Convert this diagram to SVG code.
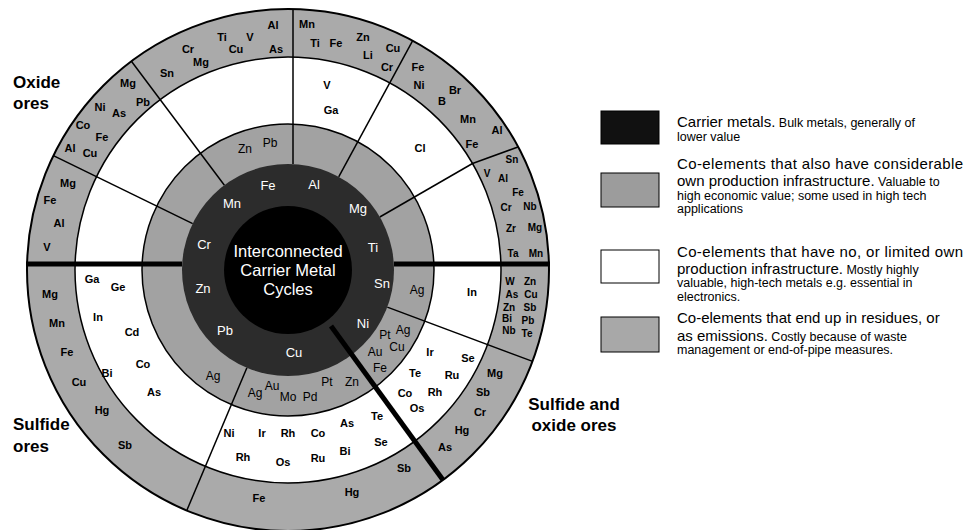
<svg xmlns="http://www.w3.org/2000/svg" width="967" height="530" viewBox="0 0 967 530">
<style>
text{font-family:"Liberation Sans",Arial,Helvetica,sans-serif}
.o{font-size:11px;font-weight:bold;text-anchor:middle;fill:#000}
.s{font-size:10px;font-weight:bold;text-anchor:middle;fill:#000}
.w{font-size:11px;font-weight:bold;text-anchor:middle;fill:#000}
.m{font-size:12px;text-anchor:middle;fill:#000}
.d{font-size:13px;text-anchor:middle;fill:#fff}
.c{font-size:16.5px;text-anchor:middle;fill:#fff}
.reg{font-size:17px;font-weight:bold;fill:#000}
.lb{font-size:15px;fill:#000}
.ls{font-size:12.5px;fill:#000}
.thin{stroke:#000;stroke-width:1.5;fill:none}
.thick{stroke:#000;stroke-width:5;fill:none}
</style>
<rect width="967" height="530" fill="#fff"/>
<g id="rings">
<circle cx="288" cy="270" r="261" fill="#aaaaaa" stroke="#000" stroke-width="2"/>
<circle cx="288" cy="270" r="213" fill="#fff" stroke="#000" stroke-width="1.5"/>
<circle cx="288" cy="270" r="146" fill="#a2a2a2" stroke="#000" stroke-width="1.5"/>
</g>
<g id="connectors">
<line class="thin" x1="224.4" y1="185.2" x2="131.4" y2="61.2"/>
<line class="thin" x1="192.7" y1="223.6" x2="53.4" y2="155.7"/>
<line class="thin" x1="293" y1="164" x2="293" y2="9"/>
<line class="thin" x1="338.7" y1="176.8" x2="412.7" y2="40.6"/>
<line class="thin" x1="379.8" y1="217" x2="472.5" y2="163.5"/>
<line class="thin" x1="472.5" y1="163.5" x2="518" y2="147"/>
<line class="thin" x1="387.3" y1="307.1" x2="532.6" y2="361.4"/>
<line class="thin" x1="246.9" y1="367.7" x2="186.7" y2="510.7"/>
<line class="thick" x1="26" y1="264" x2="182" y2="264"/>
<line class="thick" x1="394" y1="264" x2="550" y2="264"/>
</g>
<g id="carrier">
<circle cx="288" cy="270" r="106" fill="#2c2c2c"/>
<circle cx="288" cy="270" r="64" fill="#000"/>
<line class="thick" x1="331" y1="326" x2="443" y2="480"/>
</g>
<g id="center-label">
<text class="c" x="288" y="257">Interconnected</text>
<text class="c" x="288" y="276">Carrier Metal</text>
<text class="c" x="288" y="295">Cycles</text>
</g>
<g id="carrier-metals">
<text class="d" x="268" y="190">Fe</text>
<text class="d" x="314" y="189">Al</text>
<text class="d" x="232" y="208">Mn</text>
<text class="d" x="358" y="213">Mg</text>
<text class="d" x="204" y="249">Cr</text>
<text class="d" x="373" y="252">Ti</text>
<text class="d" x="203" y="293">Zn</text>
<text class="d" x="382" y="288">Sn</text>
<text class="d" x="225" y="335">Pb</text>
<text class="d" x="363" y="328">Ni</text>
<text class="d" x="294" y="357">Cu</text>
</g>
<g id="oxide-ores">
<text class="reg" x="13" y="88">Oxide</text>
<text class="reg" x="13" y="109">ores</text>
<text class="o" x="68" y="187">Mg</text>
<text class="o" x="50" y="204">Fe</text>
<text class="o" x="59" y="227">Al</text>
<text class="o" x="47" y="251">V</text>
<text class="o" x="128" y="87">Mg</text>
<text class="o" x="143" y="106">Pb</text>
<text class="o" x="100" y="111">Ni</text>
<text class="o" x="119" y="117">As</text>
<text class="o" x="83" y="129">Co</text>
<text class="o" x="102" y="141">Fe</text>
<text class="o" x="70" y="152">Al</text>
<text class="o" x="90" y="157">Cu</text>
<text class="o" x="167" y="77">Sn</text>
<text class="o" x="188" y="53">Cr</text>
<text class="o" x="201" y="66">Mg</text>
<text class="o" x="222" y="41">Ti</text>
<text class="o" x="236" y="53">Cu</text>
<text class="o" x="250" y="41">V</text>
<text class="o" x="273" y="29">Al</text>
<text class="o" x="276" y="53">As</text>
<text class="o" x="307" y="28">Mn</text>
<text class="o" x="315" y="47">Ti</text>
<text class="o" x="336" y="47">Fe</text>
<text class="o" x="363" y="41">Zn</text>
<text class="o" x="368" y="59">Li</text>
<text class="o" x="393" y="52">Cu</text>
<text class="o" x="387" y="71">Cr</text>
<text class="o" x="418" y="71">Fe</text>
<text class="o" x="419" y="89">Ni</text>
<text class="o" x="455" y="94">Br</text>
<text class="o" x="442" y="105">B</text>
<text class="o" x="468" y="123">Mn</text>
<text class="o" x="497" y="134">Al</text>
<text class="o" x="472" y="148">Fe</text>
<text class="s" x="512" y="163">Sn</text>
<text class="s" x="487" y="177">V</text>
<text class="s" x="503" y="182">Al</text>
<text class="s" x="518" y="196">Fe</text>
<text class="s" x="506" y="211">Cr</text>
<text class="s" x="530" y="210">Nb</text>
<text class="s" x="511" y="232">Zr</text>
<text class="s" x="535" y="231">Mg</text>
<text class="s" x="513" y="257">Ta</text>
<text class="s" x="536" y="257">Mn</text>
<text class="w" x="327" y="89">V</text>
<text class="w" x="331" y="114">Ga</text>
<text class="w" x="420" y="152">Cl</text>
<text class="m" x="245" y="153">Zn</text>
<text class="m" x="270" y="147">Pb</text>
</g>
<g id="sulfide-ores">
<text class="reg" x="13" y="430">Sulfide</text>
<text class="reg" x="13" y="452">ores</text>
<text class="o" x="50" y="298">Mg</text>
<text class="o" x="57" y="327">Mn</text>
<text class="o" x="67" y="356">Fe</text>
<text class="o" x="79" y="386">Cu</text>
<text class="o" x="102" y="414">Hg</text>
<text class="o" x="125" y="449">Sb</text>
<text class="w" x="92" y="283">Ga</text>
<text class="w" x="118" y="291">Ge</text>
<text class="w" x="98" y="321">In</text>
<text class="w" x="132" y="336">Cd</text>
<text class="w" x="143" y="368">Co</text>
<text class="w" x="107" y="377">Bi</text>
<text class="w" x="154" y="396">As</text>
<text class="m" x="213" y="380">Ag</text>
</g>
<g id="mixed-ores-left">
<text class="m" x="255" y="397">Ag</text>
<text class="m" x="272" y="390">Au</text>
<text class="m" x="288" y="401">Mo</text>
<text class="m" x="310" y="401">Pd</text>
<text class="m" x="327" y="386">Pt</text>
<text class="m" x="352" y="386">Zn</text>
<text class="w" x="229" y="437">Ni</text>
<text class="w" x="262" y="437">Ir</text>
<text class="w" x="288" y="437">Rh</text>
<text class="w" x="318" y="437">Co</text>
<text class="w" x="347" y="427">As</text>
<text class="w" x="377" y="420">Te</text>
<text class="w" x="381" y="446">Se</text>
<text class="w" x="345" y="455">Bi</text>
<text class="w" x="243" y="461">Rh</text>
<text class="w" x="283" y="466">Os</text>
<text class="w" x="318" y="462">Ru</text>
<text class="o" x="404" y="472">Sb</text>
<text class="o" x="352" y="496">Hg</text>
<text class="o" x="259" y="502">Fe</text>
</g>
<g id="sulfide-oxide-ores">
<text class="reg" x="574" y="410" text-anchor="middle">Sulfide and</text>
<text class="reg" x="574" y="431" text-anchor="middle">oxide ores</text>
<text class="m" x="417" y="294">Ag</text>
<text class="w" x="472" y="296">In</text>
<text class="s" x="510" y="285">W</text>
<text class="s" x="530" y="285">Zn</text>
<text class="s" x="512" y="298">As</text>
<text class="s" x="531" y="298">Cu</text>
<text class="s" x="509" y="311">Zn</text>
<text class="s" x="530" y="311">Sb</text>
<text class="s" x="507" y="322">Bi</text>
<text class="s" x="528" y="324">Pb</text>
<text class="s" x="509" y="334">Nb</text>
<text class="s" x="527" y="337">Te</text>
<text class="m" x="403" y="334">Ag</text>
<text class="m" x="385" y="339">Pt</text>
<text class="m" x="397" y="351">Cu</text>
<text class="m" x="375" y="356">Au</text>
<text class="m" x="380" y="372">Fe</text>
<text class="w" x="430" y="356">Ir</text>
<text class="w" x="468" y="362">Se</text>
<text class="w" x="415" y="377">Te</text>
<text class="w" x="452" y="379">Ru</text>
<text class="w" x="405" y="397">Co</text>
<text class="w" x="435" y="396">Rh</text>
<text class="w" x="417" y="412">Os</text>
<text class="o" x="495" y="377">Mg</text>
<text class="o" x="483" y="396">Sb</text>
<text class="o" x="480" y="416">Cr</text>
<text class="o" x="462" y="434">Hg</text>
<text class="o" x="445" y="451">As</text>
</g>
<g id="legend">
<rect x="601" y="111" width="58" height="33" fill="#111" stroke="#000"/>
<text x="677" y="127"><tspan class="lb">Carrier metals.</tspan><tspan class="ls"> Bulk metals, generally of</tspan></text>
<text class="ls" x="677" y="141">lower value</text>
<rect x="601" y="173" width="58" height="34" fill="#9c9c9c" stroke="#000"/>
<text class="lb" x="677" y="169" textLength="286" lengthAdjust="spacing">Co-elements that also have considerable</text>
<text x="677" y="186"><tspan class="lb">own production infrastructure.</tspan><tspan class="ls"> Valuable to</tspan></text>
<text class="ls" x="677" y="200">high economic value; some used in high tech</text>
<text class="ls" x="677" y="213">applications</text>
<rect x="601" y="250" width="58" height="33" fill="#fff" stroke="#000"/>
<text class="lb" x="677" y="257" textLength="286" lengthAdjust="spacing">Co-elements that have no, or limited own</text>
<text x="677" y="274"><tspan class="lb">production infrastructure.</tspan><tspan class="ls"> Mostly highly</tspan></text>
<text class="ls" x="677" y="287">valuable, high-tech metals e.g. essential in</text>
<text class="ls" x="677" y="301">electronics.</text>
<rect x="601" y="317" width="58" height="35" fill="#a8a8a8" stroke="#000"/>
<text class="lb" x="677" y="323">Co-elements that end up in residues, or</text>
<text x="677" y="341"><tspan class="lb">as emissions.</tspan><tspan class="ls"> Costly because of waste</tspan></text>
<text class="ls" x="677" y="354">management or end-of-pipe measures.</text>
</g>
</svg>
